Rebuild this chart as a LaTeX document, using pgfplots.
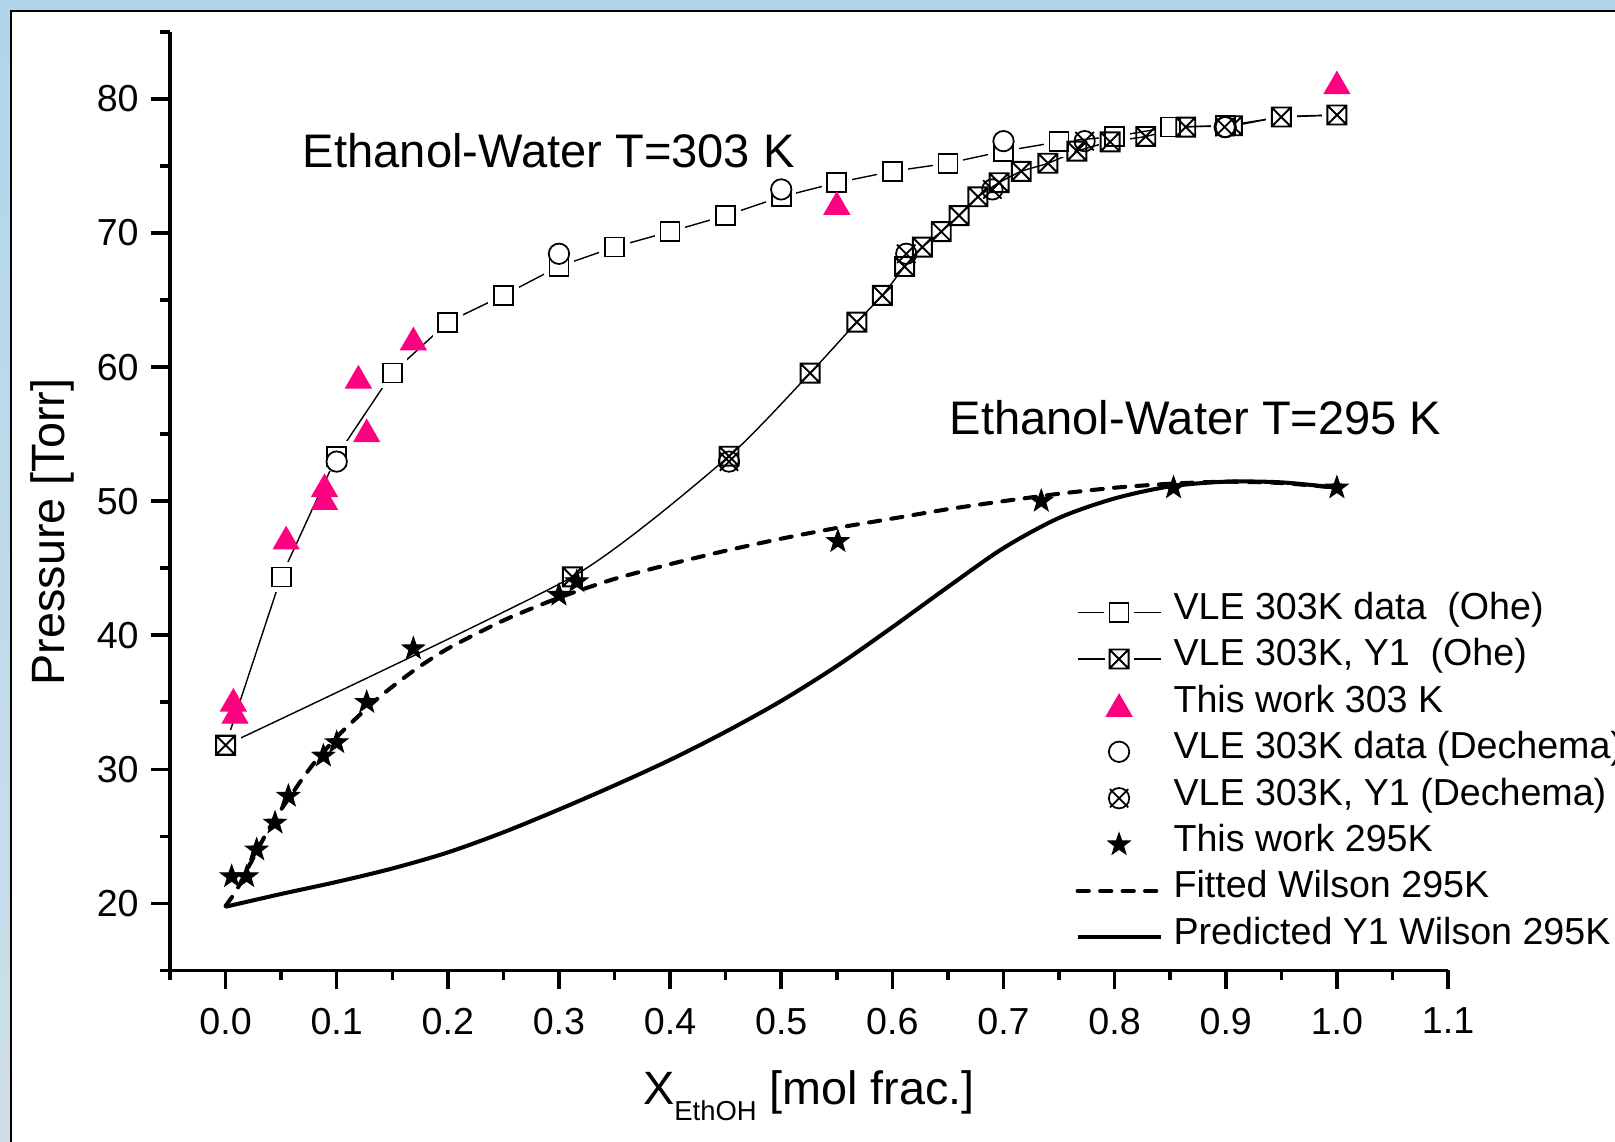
\documentclass[border=0pt]{standalone}
\usepackage{pgfplots}
\usepackage{pgfplotstable}
\pgfplotsset{compat=1.18}
\usepackage{fontspec}
\setmainfont{Liberation Sans}

\definecolor{hotpink}{RGB}{255,0,128}
\definecolor{skyA}{RGB}{176,214,235}
\definecolor{skyB}{RGB}{206,222,232}

% open square with a white halo, so the connecting line stops short of it
\pgfdeclareplotmark{halobox}{%
  \begin{pgfscope}\pgfsetfillcolor{white}%
  \pgfpathrectangle{\pgfqpoint{-1.6\pgfplotmarksize}{-1.6\pgfplotmarksize}}{\pgfqpoint{3.2\pgfplotmarksize}{3.2\pgfplotmarksize}}%
  \pgfusepathqfill\end{pgfscope}%
  \pgfpathrectangle{\pgfqpoint{-\pgfplotmarksize}{-\pgfplotmarksize}}{\pgfqpoint{2\pgfplotmarksize}{2\pgfplotmarksize}}%
  \pgfusepathqstroke
}
% square with both diagonals
\pgfdeclareplotmark{boxcross}{%
  \pgfpathrectangle{\pgfqpoint{-\pgfplotmarksize}{-\pgfplotmarksize}}{\pgfqpoint{2\pgfplotmarksize}{2\pgfplotmarksize}}%
  \pgfpathmoveto{\pgfqpoint{-\pgfplotmarksize}{-\pgfplotmarksize}}\pgfpathlineto{\pgfqpoint{\pgfplotmarksize}{\pgfplotmarksize}}%
  \pgfpathmoveto{\pgfqpoint{-\pgfplotmarksize}{\pgfplotmarksize}}\pgfpathlineto{\pgfqpoint{\pgfplotmarksize}{-\pgfplotmarksize}}%
  \pgfusepathqstroke
}
% circle with a cross that reaches just past the rim
\pgfdeclareplotmark{circcross}{%
  \pgfpathcircle{\pgfpointorigin}{\pgfplotmarksize}%
  \pgfpathmoveto{\pgfqpoint{-0.9\pgfplotmarksize}{-0.9\pgfplotmarksize}}\pgfpathlineto{\pgfqpoint{0.9\pgfplotmarksize}{0.9\pgfplotmarksize}}%
  \pgfpathmoveto{\pgfqpoint{-0.9\pgfplotmarksize}{0.9\pgfplotmarksize}}\pgfpathlineto{\pgfqpoint{0.9\pgfplotmarksize}{-0.9\pgfplotmarksize}}%
  \pgfusepathqstroke
}
% filled five-pointed star
\pgfdeclareplotmark{fivestar}{%
  \pgfpathmoveto{\pgfqpointpolar{90}{\pgfplotmarksize}}%
  \pgfpathlineto{\pgfqpointpolar{126}{0.4\pgfplotmarksize}}%
  \pgfpathlineto{\pgfqpointpolar{162}{\pgfplotmarksize}}%
  \pgfpathlineto{\pgfqpointpolar{198}{0.4\pgfplotmarksize}}%
  \pgfpathlineto{\pgfqpointpolar{234}{\pgfplotmarksize}}%
  \pgfpathlineto{\pgfqpointpolar{270}{0.4\pgfplotmarksize}}%
  \pgfpathlineto{\pgfqpointpolar{306}{\pgfplotmarksize}}%
  \pgfpathlineto{\pgfqpointpolar{342}{0.4\pgfplotmarksize}}%
  \pgfpathlineto{\pgfqpointpolar{18}{\pgfplotmarksize}}%
  \pgfpathlineto{\pgfqpointpolar{54}{0.4\pgfplotmarksize}}%
  \pgfpathclose
  \pgfusepathqfillstroke
}

\pgfplotsset{
  lineleg/.style={legend image code/.code={\draw[mark repeat=2,mark phase=2,##1] plot coordinates {(0cm,0cm) (0.415cm,0cm) (0.83cm,0cm)};}},
  gapleg/.style={legend image code/.code={%
      \draw[##1] (0cm,0cm) -- (0.27cm,0cm);
      \draw[##1] (0.56cm,0cm) -- (0.83cm,0cm);
      \draw[##1,only marks] plot coordinates {(0.415cm,0cm)};}},
  markleg/.style={legend image code/.code={\draw[##1] plot coordinates {(0.415cm,0cm)};}},
}

% VLE 303 K, liquid composition (Ohe)
\pgfplotstableread{
x P
0.00 31.8
0.05 44.35
0.10 53.35
0.15 59.55
0.20 63.35
0.25 65.35
0.30 67.5
0.35 68.95
0.40 70.1
0.45 71.3
0.50 72.7
0.55 73.75
0.60 74.6
0.65 75.2
0.70 76.1
0.75 76.8
0.80 77.2
0.85 77.9
0.90 78.0
0.95 78.65
1.00 78.8
}\oheX
% VLE 303 K, vapour composition Y1 (Ohe)
\pgfplotstableread{
x P
0.000 31.8
0.312 44.35
0.453 53.35
0.526 59.55
0.568 63.35
0.591 65.35
0.611 67.5
0.627 68.95
0.644 70.1
0.660 71.3
0.677 72.7
0.696 73.75
0.716 74.6
0.740 75.2
0.766 76.1
0.796 76.8
0.828 77.2
0.864 77.9
0.906 78.0
0.950 78.65
1.000 78.8
}\oheY
% this work, 303 K
\pgfplotstableread{
x P
0.0070 35.15
0.0085 34.25
0.0545 47.25
0.0890 51.15
0.0890 50.2
0.1195 59.25
0.1270 55.25
0.1690 62.1
0.5500 72.2
1.0000 81.2
}\workA
% Dechema 303 K
\pgfplotstableread{
x P
0.1 52.95
0.3 68.45
0.5 73.25
0.7 76.85
0.9 77.9
}\decX
\pgfplotstableread{
x P
0.453 52.95
0.6125 68.45
0.690 73.25
0.773 76.85
0.899 77.9
}\decY
% this work, 295 K
\pgfplotstableread{
x P
0.0055 22.0
0.0190 22.0
0.0280 24.0
0.0445 26.0
0.0565 28.0
0.0880 31.0
0.1000 32.0
0.1270 35.0
0.1690 39.0
0.3000 43.0
0.3160 44.0
0.5510 47.0
0.7340 50.0
0.8530 51.0
1.0000 51.0
}\workB
% Wilson fit, 295 K
\pgfplotstableread{
x P
0.00 19.8
0.01 21.0
0.02 22.6
0.03 24.2
0.04 25.7
0.05 27.0
0.06 28.2
0.07 29.4
0.08 30.5
0.10 32.4
0.12 34.0
0.14 35.5
0.17 37.4
0.20 39.0
0.25 41.1
0.30 42.8
0.35 44.2
0.40 45.3
0.45 46.3
0.50 47.2
0.55 48.0
0.60 48.7
0.65 49.4
0.70 50.0
0.75 50.55
0.80 51.0
0.85 51.3
0.90 51.45
0.95 51.35
1.00 51.0
}\wilfit
% Wilson prediction of Y1, 295 K
\pgfplotstableread{
x P
0.00 19.75
0.05 20.7
0.10 21.6
0.15 22.6
0.20 23.8
0.25 25.3
0.30 27.0
0.35 28.8
0.40 30.7
0.45 32.8
0.50 35.1
0.55 37.7
0.60 40.6
0.65 43.6
0.70 46.5
0.75 48.75
0.80 50.2
0.85 51.1
0.90 51.45
0.95 51.4
1.00 51.0
}\wilpred

\begin{document}
\begin{tikzpicture}
\path[use as bounding box] (0,0) rectangle (16.15,11.41);
\clip (0,0) rectangle (16.15,11.41);
\shade[top color=skyA, bottom color=skyB] (0,0) rectangle (16.15,11.41);
\fill[skyA] (0,11.28) rectangle (16.15,11.41);
\filldraw[fill=white, draw=black, line width=0.6pt] (0.11,-0.5) rectangle (16.8,11.30);

\begin{axis}[
  at={(1.70cm,1.706cm)}, anchor=south west,
  scale only axis, width=12.78cm, height=9.385cm,
  xmin=-0.05, xmax=1.1, ymin=15, ymax=85,
  axis x line*=bottom, axis y line*=left,
  axis line style={line width=1pt, -},
  xtick={0,0.1,0.2,0.3,0.4,0.5,0.6,0.7,0.8,0.9,1.0,1.1},
  minor xtick={-0.05,0.05,0.15,0.25,0.35,0.45,0.55,0.65,0.75,0.85,0.95,1.05},
  ytick={20,30,40,50,60,70,80},
  minor ytick={15,25,35,45,55,65,75,85},
  tick align=outside,
  major tick length=0.19cm, minor tick length=0.1cm,
  tick style={black, line width=1pt},
  tick label style={font=\fontsize{10.7}{12}\selectfont},
  /pgf/number format/assume math mode=true,
  xticklabel style={yshift=-0.06cm, /pgf/number format/.cd, fixed, fixed zerofill, precision=1},
  clip=false,
  lineleg,
  legend cell align=left,
  legend style={at={(axis cs:0.7642,43.47)}, anchor=north west,
    draw=none, fill=none, inner sep=0pt, row sep=0pt,
    font=\fontsize{10.7}{12}\selectfont,
    nodes={inner ysep=0pt, inner xsep=0.11cm, text height=0.3cm, text depth=0.164cm}},
]
% model curves first, so the symbols sit on top of them
\addplot[forget plot, black, line width=1.15pt, dash pattern=on 3.2pt off 3.2pt, line cap=round, smooth, tension=0.4] table[x=x,y=P] {\wilfit};
\addplot[forget plot, black, line width=1.15pt, smooth, tension=0.5] table[x=x,y=P] {\wilpred};

\addplot[black, line width=0.4pt, mark=halobox, mark size=2.7pt, mark options={line width=0.5pt}] table[x=x,y=P] {\oheX};
\addlegendentry{VLE 303K data\ \ (Ohe)}
\addplot[black, line width=0.4pt, smooth, tension=0.35, mark=boxcross, mark size=2.7pt, mark options={line width=0.55pt}, gapleg] table[x=x,y=P] {\oheY};
\addlegendentry{VLE 303K, Y1\ \ (Ohe)}
\addplot[only marks, mark=triangle*, mark size=4.1pt, color=hotpink, mark options={fill=hotpink, draw=hotpink, yshift=-1pt}, markleg] table[x=x,y=P] {\workA};
\addlegendentry{This work 303 K}
\addplot[only marks, black, mark=*, mark size=2.9pt, mark options={fill=white, line width=0.5pt}, markleg] table[x=x,y=P] {\decX};
\addlegendentry{VLE 303K data (Dechema)}
\addplot[only marks, black, mark=circcross, mark size=2.9pt, mark options={line width=0.5pt}, markleg] table[x=x,y=P] {\decY};
\addlegendentry{VLE 303K, Y1 (Dechema)}
\addplot[only marks, black, mark=fivestar, mark size=3.3pt, mark options={fill=black, line width=0.3pt}, markleg] table[x=x,y=P] {\workB};
\addlegendentry{This work 295K}
\addlegendimage{black, line width=1.15pt, dash pattern=on 3.2pt off 3.2pt, line cap=round}
\addlegendentry{Fitted Wilson 295K}
\addlegendimage{black, line width=1.15pt}
\addlegendentry{Predicted Y1 Wilson 295K}

\node[anchor=base west, inner sep=0pt, font=\fontsize{13.4}{16}\selectfont] at (axis cs:0.069,74.9) {Ethanol-Water T=303 K};
\node[anchor=base west, inner sep=0pt, font=\fontsize{13.4}{16}\selectfont] at (axis cs:0.651,55.0) {Ethanol-Water T=295 K};
\end{axis}

\node[rotate=90, anchor=base, inner sep=0pt, font=\fontsize{13.3}{16}\selectfont] at (0.645,6.09) {Pressure [Torr]};
\node[anchor=base, inner sep=0pt, font=\fontsize{13.3}{16}\selectfont] at (8.09,0.37) {X\raisebox{-4.8pt}{\fontsize{7.8}{9}\selectfont EthOH} [mol frac.]};
\end{tikzpicture}
\end{document}
